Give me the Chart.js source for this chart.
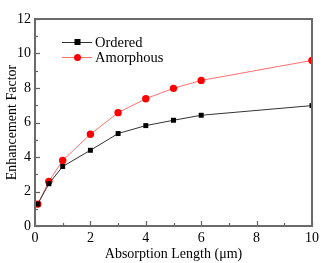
<!DOCTYPE html>
<html>
<head>
<meta charset="utf-8">
<script src="https://cdn.jsdelivr.net/npm/chart.js@4/dist/chart.umd.min.js"></script>
<style>
  html, body { margin: 0; padding: 0; background: #fff; }
  #wrap { width: 332px; height: 263px; }
</style>
</head>
<body>
<div id="wrap"><canvas id="grafico" width="332" height="263"></canvas></div>
<script>
// datos
const longitudes = [0.1, 0.5, 1, 2, 3, 4, 5, 6, 10];
const ordenado = [1.27, 2.45, 3.45, 4.39, 5.36, 5.82, 6.13, 6.42, 6.98];
const amorfo = [1.27, 2.58, 3.80, 5.32, 6.57, 7.38, 7.98, 8.44, 9.60];
const nombres = ["Ordered", "Amorphous"];
const ticksX = [0, 2, 4, 6, 8, 10];
const ticksY = [0, 2, 4, 6, 8, 10, 12];

const fuente = "'Liberation Serif', 'Times New Roman', serif";
const puntos = (ys) => longitudes.map((x, i) => ({ x: x, y: ys[i] }));

// marco, ticks hacia dentro y leyenda
const marco = {
  id: "marco",
  afterDraw(chart) {
    const c = chart.ctx;
    const a = chart.chartArea;
    const sx = chart.scales.x;
    const sy = chart.scales.y;
    c.save();
    c.strokeStyle = "#5f5f5f";
    c.lineWidth = 1.2;
    for (let v = 0; v <= 10; v++) {
      const px = Math.round(sx.getPixelForValue(v)) + 0.5;
      const len = v % 2 === 0 ? 5 : 3;
      c.beginPath();
      c.moveTo(px, a.bottom);
      c.lineTo(px, a.bottom - len);
      c.stroke();
    }
    for (let v = 0; v <= 12; v++) {
      const py = Math.round(sy.getPixelForValue(v)) + 0.5;
      const len = v % 2 === 0 ? 5 : 3;
      c.beginPath();
      c.moveTo(a.left, py);
      c.lineTo(a.left + len, py);
      c.stroke();
    }
    c.lineWidth = 2;
    c.strokeStyle = "#6a6a6a";
    c.strokeRect(a.left, a.top, a.right - a.left, a.bottom - a.top);
    // leyenda
    chart.data.datasets.forEach((ds, i) => {
      const y = 42 + i * 15;
      c.strokeStyle = ds.borderColor;
      c.lineWidth = 1;
      c.beginPath();
      c.moveTo(62, y + 0.5);
      c.lineTo(92, y + 0.5);
      c.stroke();
      c.fillStyle = ds.pointBackgroundColor;
      if (ds.pointStyle === "rect") {
        c.fillRect(74.5, y - 3, 6, 6);
      } else {
        c.beginPath();
        c.arc(77.5, y + 0.5, 3.5, 0, Math.PI * 2);
        c.fill();
      }
      c.fillStyle = "#000";
      c.font = "14.5px " + fuente;
      c.textBaseline = "middle";
      c.fillText(ds.label, 95, y + 1);
    });
    c.restore();
  }
};

const ctx = document.getElementById("grafico").getContext("2d");
const grafico = new Chart(ctx, {
  type: "line",
  data: {
    datasets: [
      {
        label: nombres[0],
        data: puntos(ordenado),
        borderColor: "#333333",
        borderWidth: 1,
        pointStyle: "rect",
        pointRadius: 3.5,
        pointBackgroundColor: "#000000",
        pointBorderColor: "#000000",
        pointBorderWidth: 0,
        tension: 0
      },
      {
        label: nombres[1],
        data: puntos(amorfo),
        borderColor: "#ff7070",
        borderWidth: 1,
        pointStyle: "circle",
        pointRadius: 3.7,
        pointBackgroundColor: "#ff0000",
        pointBorderColor: "#ff0000",
        pointBorderWidth: 0,
        tension: 0
      }
    ]
  },
  options: {
    responsive: false,
    animation: false,
    layout: { padding: { left: 0, top: 19, right: 20, bottom: 0 } },
    plugins: { legend: { display: false }, tooltip: { enabled: false } },
    scales: {
      x: {
        type: "linear",
        min: 0,
        max: 10,
        afterBuildTicks: (s) => { s.ticks = ticksX.map(v => ({ value: v })); },
        afterFit: (s) => { s.height = 37; },
        grid: { display: false, drawTicks: false },
        border: { display: false },
        ticks: { color: "#000", font: { family: fuente, size: 14 }, padding: 4, maxRotation: 0 },
        title: { display: true, text: "Absorption Length (μm)", color: "#000", font: { family: fuente, size: 14 }, padding: 0 }
      },
      y: {
        type: "linear",
        min: 0,
        max: 12,
        afterBuildTicks: (s) => { s.ticks = ticksY.map(v => ({ value: v })); },
        afterFit: (s) => { s.width = 35; },
        grid: { display: false, drawTicks: false },
        border: { display: false },
        ticks: { color: "#000", font: { family: fuente, size: 14 }, padding: 4 },
        title: { display: true, text: "Enhancement Factor", color: "#000", font: { family: fuente, size: 14 }, padding: { top: 4, bottom: 0 } }
      }
    }
  },
  plugins: [marco]
});
</script>
</body>
</html>
